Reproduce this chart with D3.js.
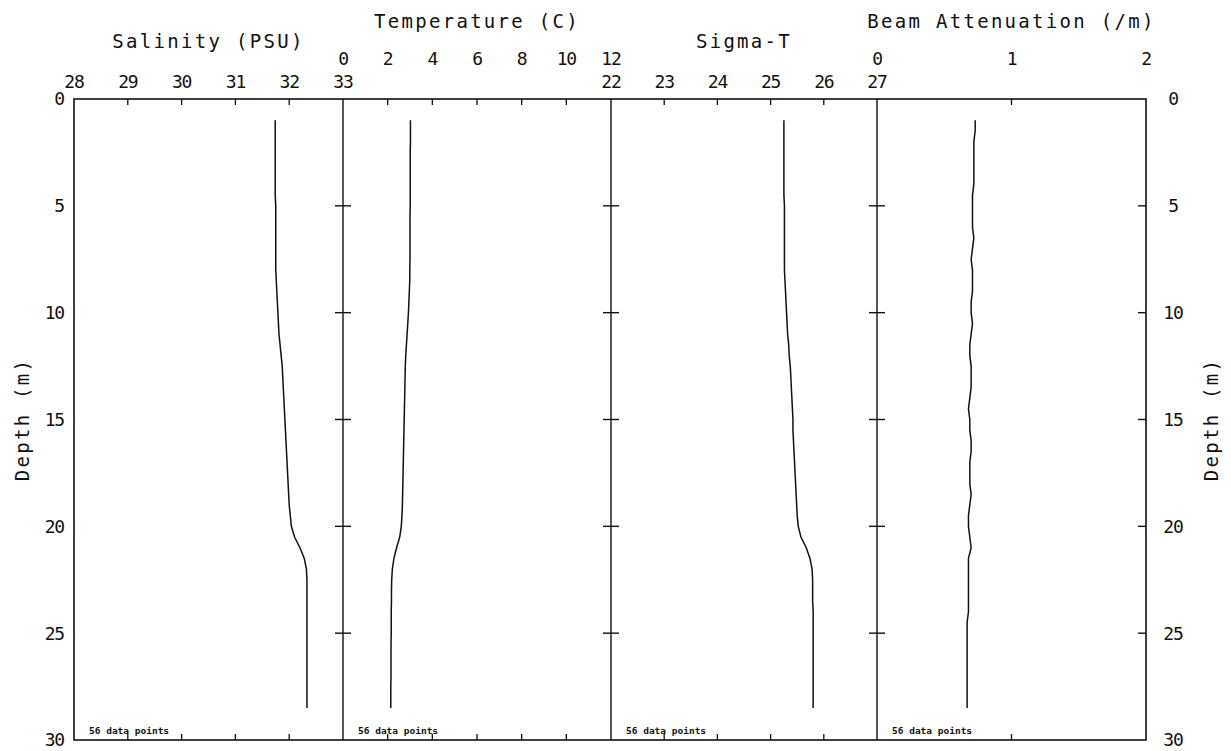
<!DOCTYPE html>
<html>
<head>
<meta charset="utf-8">
<script src="https://cdn.jsdelivr.net/npm/d3@7"></script>
<style>
  html, body { margin: 0; padding: 0; background: #fff; }
  svg text { font-family: "DejaVu Sans Mono", monospace; fill: #111; }
</style>
</head>
<body>
<svg id="chart" width="1231" height="751"></svg>
<script>
// ---------------- data ----------------
const depth = [1,1.5,2,2.5,3,3.5,4,4.5,5,5.5,6,6.5,7,7.5,8,8.5,9,9.5,10,10.5,11,11.5,12,12.5,13,13.5,14,14.5,15,15.5,16,16.5,17,17.5,18,18.5,19,19.5,20,20.5,21,21.5,22,22.5,23,23.5,24,24.5,25,25.5,26,26.5,27,27.5,28,28.5];

const salinity = [31.74,31.74,31.74,31.74,31.74,31.74,31.74,31.74,31.75,31.75,31.75,31.75,31.75,31.75,31.75,31.76,
  31.77,31.78,31.79,31.80,31.81,31.83,31.85,31.87,31.88,31.89,31.90,31.91,31.92,31.93,31.94,31.95,31.96,31.97,31.98,31.99,32.00,32.02,32.04,32.10,32.20,32.28,32.32,32.33,
  32.33,32.33,32.33,32.33,32.33,32.33,32.33,32.33,32.33,32.33,32.33,32.33];

const temperature = [3.02,3.02,3.02,3.01,3.01,3.01,3.01,3.01,3.01,3.00,3.00,3.00,3.00,3.00,2.99,2.99,
  2.97,2.95,2.93,2.90,2.87,2.84,2.81,2.79,2.78,2.77,2.76,2.75,2.74,2.73,2.72,2.71,2.70,2.69,2.68,2.67,2.66,2.64,2.61,2.54,2.40,2.28,2.21,2.18,
  2.17,2.17,2.16,2.16,2.16,2.15,2.15,2.15,2.15,2.14,2.14,2.14];

const sigmaT = [25.25,25.25,25.25,25.25,25.25,25.25,25.25,25.25,25.26,25.26,25.26,25.26,25.26,25.26,25.26,25.27,
  25.28,25.29,25.30,25.31,25.32,25.34,25.35,25.37,25.38,25.39,25.40,25.41,25.42,25.42,25.43,25.44,25.45,25.46,25.47,25.48,25.49,25.50,25.52,25.57,25.67,25.74,25.78,25.79,
  25.79,25.79,25.80,25.80,25.80,25.80,25.80,25.80,25.80,25.80,25.80,25.80];

const beamAtt = [0.73,0.73,0.72,0.72,0.72,0.72,0.72,0.71,0.71,0.71,0.71,0.72,0.71,0.70,0.71,0.71,
  0.71,0.70,0.70,0.71,0.70,0.69,0.69,0.70,0.70,0.70,0.69,0.68,0.69,0.69,0.70,0.70,0.69,0.69,0.69,0.70,0.69,0.68,0.68,0.69,0.70,0.68,0.68,0.68,
  0.68,0.68,0.68,0.67,0.67,0.67,0.67,0.67,0.67,0.67,0.67,0.67];

const panelTitles = ["Salinity (PSU)", "Temperature (C)", "Sigma-T", "Beam Attenuation (/m)"];
const panelDomains = [[28,33],[0,12],[22,27],[0,2]];
const salinityTicks = [28,29,30,31,32,33];
const temperatureTicks = [0,2,4,6,8,10,12];
const sigmaTicks = [22,23,24,25,26,27];
const beamTicks = [0,1,2];
const depthTicks = [0,5,10,15,20,25,30];
const depthTitle = "Depth (m)";
const pointsNote = "56 data points";

// ---------------- layout ----------------
const svg = d3.select("#chart");
const yTop = 99, yBot = 740;
const edges = [74, 343, 611, 877, 1146];
const y = d3.scaleLinear().domain([0, 30]).range([yTop, yBot]);

const series = [salinity, temperature, sigmaT, beamAtt];
const tickSets = [salinityTicks, temperatureTicks, sigmaTicks, beamTicks];
const upperRow = [false, true, false, true];

const panels = panelTitles.map((t, i) => ({
  title: t,
  x: d3.scaleLinear().domain(panelDomains[i]).range([edges[i], edges[i+1]]),
  values: series[i],
  ticks: tickSets[i],
  upper: upperRow[i]
}));

const lowBase = 88, upBase = 65;
const titleLow = 48, titleUp = 28;
const numSize = 18;

panels.forEach((p, i) => {
  const g = svg.append("g");
  g.selectAll("text.tl").data(p.ticks).join("text").attr("class", "tl")
    .attr("x", d => p.x(d))
    .attr("y", p.upper ? upBase : lowBase)
    .attr("text-anchor", "middle")
    .attr("font-size", numSize)
    .attr("letter-spacing", -1.2)
    .text(d => d);
  g.append("text")
    .attr("x", (edges[i] + edges[i+1]) / 2)
    .attr("y", p.upper ? titleUp : titleLow)
    .attr("text-anchor", "middle")
    .attr("font-size", 19)
    .attr("letter-spacing", 2.3)
    .text(p.title);
  const inner = p.ticks.filter(d => d !== p.x.domain()[0] && d !== p.x.domain()[1]);
  g.selectAll("line.tt").data(inner).join("line").attr("class", "tt")
    .attr("x1", d => p.x(d)).attr("x2", d => p.x(d))
    .attr("y1", yTop).attr("y2", yTop + 6)
    .attr("stroke", "#111").attr("stroke-width", 1.3);
  g.selectAll("line.bt").data(inner).join("line").attr("class", "bt")
    .attr("x1", d => p.x(d)).attr("x2", d => p.x(d))
    .attr("y1", yBot).attr("y2", yBot - 6)
    .attr("stroke", "#111").attr("stroke-width", 1.3);
  const line = d3.line()
    .x(d => p.x(d))
    .y((d, k) => y(depth[k]));
  g.append("path")
    .datum(p.values)
    .attr("d", line)
    .attr("fill", "none")
    .attr("stroke", "#111")
    .attr("stroke-width", 1.5);
  g.append("text")
    .attr("x", edges[i] + 15)
    .attr("y", yBot - 6)
    .attr("font-size", 9.5)
    .attr("font-weight", "bold")
    .text(pointsNote);
});

svg.append("rect")
  .attr("x", edges[0]).attr("y", yTop)
  .attr("width", edges[4] - edges[0]).attr("height", yBot - yTop)
  .attr("fill", "none").attr("stroke", "#111").attr("stroke-width", 1.6);

svg.selectAll("line.div").data(edges.slice(1, 4)).join("line").attr("class", "div")
  .attr("x1", d => d).attr("x2", d => d)
  .attr("y1", yTop).attr("y2", yBot)
  .attr("stroke", "#111").attr("stroke-width", 1.4);

const innerDepth = depthTicks.filter(d => d > 0 && d < 30);
edges.slice(1, 4).forEach(ex => {
  const gg = svg.append("g");
  gg.selectAll("line").data(innerDepth).join("line")
    .attr("x1", ex - 8).attr("x2", ex + 8)
    .attr("y1", d => y(d)).attr("y2", d => y(d))
    .attr("stroke", "#111").attr("stroke-width", 1.4);
});
svg.append("g").selectAll("line").data(innerDepth).join("line")
  .attr("x1", edges[4] - 8).attr("x2", edges[4])
  .attr("y1", d => y(d)).attr("y2", d => y(d))
  .attr("stroke", "#111").attr("stroke-width", 1.4);

svg.append("g").selectAll("text").data(depthTicks).join("text")
  .attr("x", 64).attr("y", d => y(d))
  .attr("dy", "0.36em")
  .attr("text-anchor", "end")
  .attr("font-size", numSize).attr("letter-spacing", -1.2)
  .text(d => d);
svg.append("g").selectAll("text").data(depthTicks).join("text")
  .attr("x", 1173).attr("y", d => y(d))
  .attr("dy", "0.36em")
  .attr("text-anchor", "middle")
  .attr("font-size", numSize).attr("letter-spacing", -1.2)
  .text(d => d);

[22, 1211].forEach(xp => {
  svg.append("text")
    .attr("transform", `translate(${xp},${(yTop + yBot) / 2}) rotate(-90)`)
    .attr("text-anchor", "middle")
    .attr("dy", "0.36em")
    .attr("font-size", 19)
    .attr("letter-spacing", 2.3)
    .text(depthTitle);
});
</script>
</body>
</html>
